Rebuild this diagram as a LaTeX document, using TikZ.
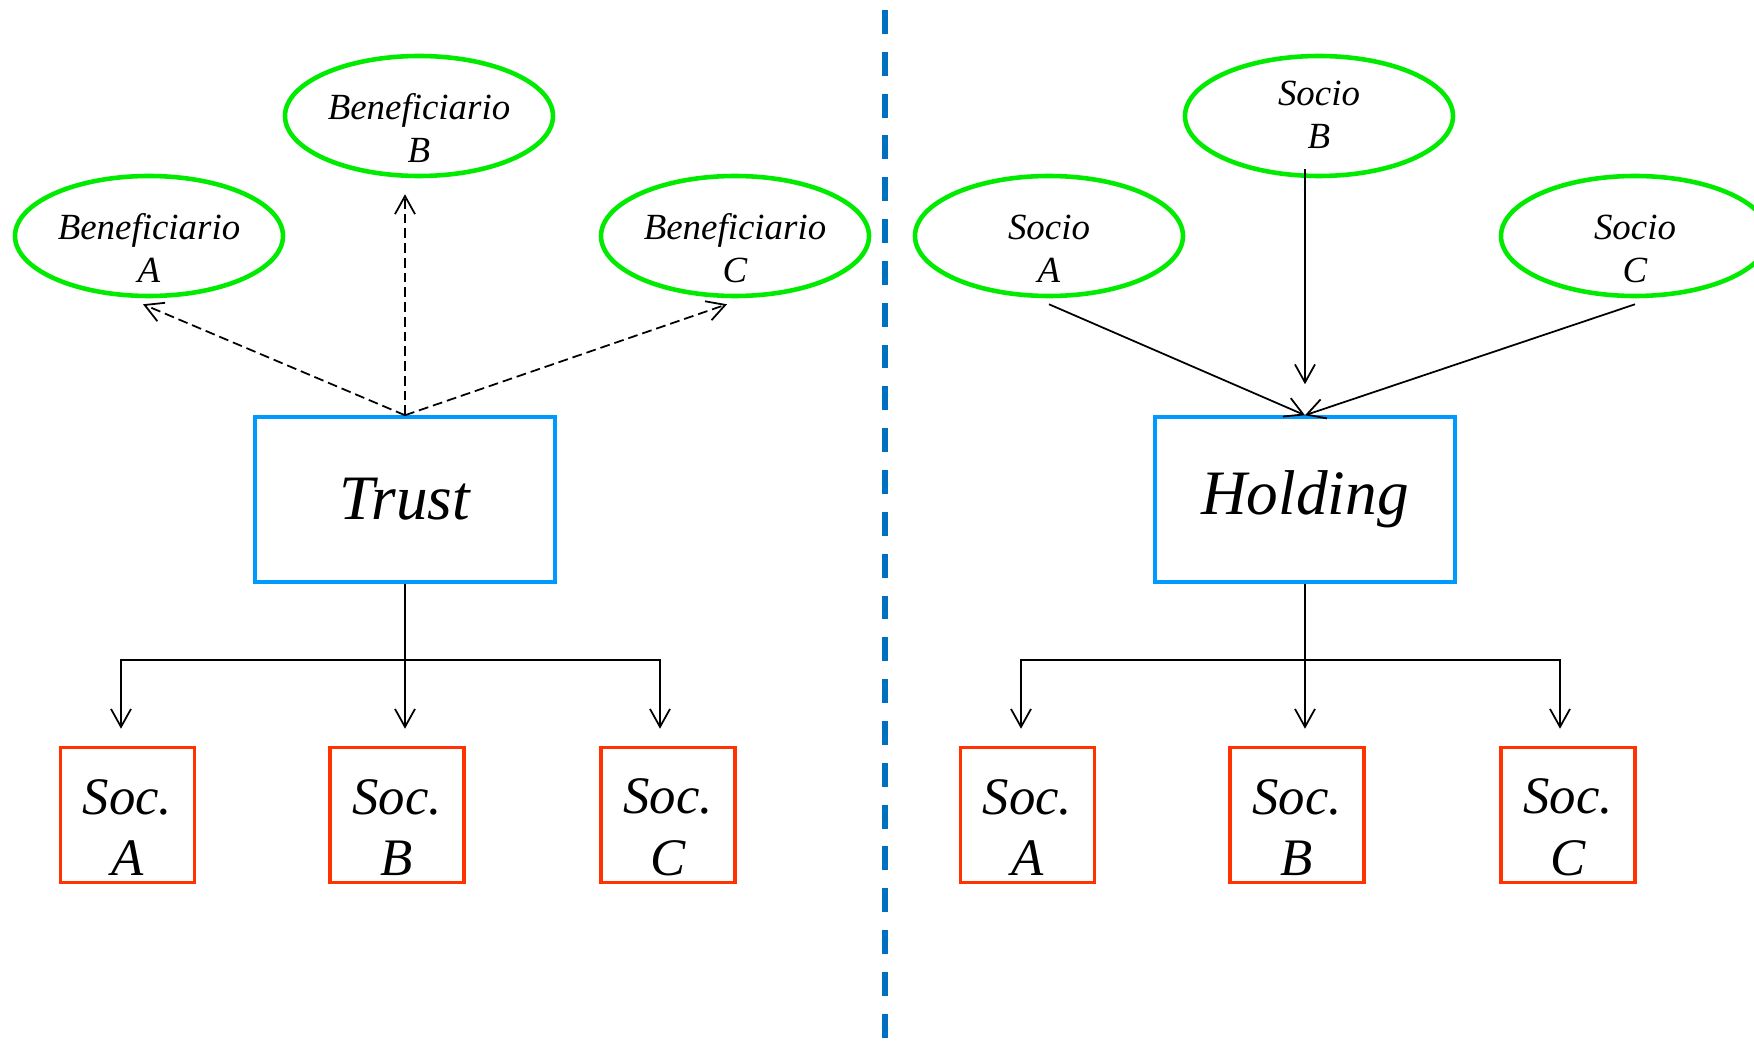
\documentclass[tikz,border=0pt]{standalone}
\usepackage{fontspec}
\setmainfont{Liberation Serif}
\usetikzlibrary{shapes.geometric, positioning, arrows.meta}

\definecolor{partygreen}{RGB}{0,235,0}
\definecolor{vehicleblue}{RGB}{0,153,255}
\definecolor{socred}{RGB}{255,51,0}
\definecolor{sepblue}{RGB}{0,112,192}

\begin{document}
\begin{tikzpicture}[>={Straight Barb[length=1.8mm, width=2mm]}, on grid, line width=0.5pt,
    party/.style={ellipse, draw=partygreen, line width=1.3pt, minimum width=2.68cm,
        minimum height=1.2cm, inner xsep=0pt, inner ysep=-3pt, align=center, text height=26.3pt,
        font=\itshape\fontsize{10.5}{12.2}\selectfont},
    vehicle/.style={rectangle, draw=vehicleblue, line width=1pt, minimum width=3cm,
        minimum height=1.65cm, font=\itshape\fontsize{18}{20}\selectfont},
    society/.style={rectangle, draw=socred, line width=1pt, minimum width=1.34cm,
        minimum height=1.35cm, inner sep=0pt, align=center, text height=34.5pt,
        font=\itshape\fontsize{15}{17.5}\selectfont}]
    \useasboundingbox (0,0) rectangle (17.54,-10.54);

    % Trust side
    \node[vehicle] (trust) at (4.05,-4.995) {Trust};
    \node[party] (benA) at (1.49,-2.36) {Beneficiario\\A};
    \node[party] (benB) at (4.19,-1.16) {Beneficiario\\B};
    \node[party] (benC) at (7.35,-2.36) {Beneficiario\\C};
    \node[society] (tsocA) at (1.275,-8.15) {Soc.\\A};
    \node[society] (tsocB) at (3.97,-8.15) {Soc.\\B};
    \node[society] (tsocC) at (6.68,-8.15) {Soc.\\C};

    % Holding side
    \node[vehicle] (holding) [right=9cm of trust] {Holding};
    \node[party] (socioA) [right=9cm of benA] {Socio\\A};
    \node[party, text height=18.3pt] (socioB) [right=9cm of benB] {Socio\\B};
    \node[party] (socioC) [right=9cm of benC] {Socio\\C};
    \node[society] (hsocA) [right=9cm of tsocA] {Soc.\\A};
    \node[society] (hsocB) [right=9cm of tsocB] {Soc.\\B};
    \node[society] (hsocC) [right=9cm of tsocC] {Soc.\\C};

    % Separator
    \coordinate (sepTop) at (8.85,-0.1);
    \coordinate (sepBot) at (8.85,-10.43);
    \draw[sepblue, line width=1.7pt, dash pattern=on 6.8pt off 5.1pt] (sepTop) -- (sepBot);

    % Beneficiaries
    \draw[->, dash pattern=on 2.8pt off 1.4pt] (trust.north) -- ([xshift=-0.6mm,yshift=-0.6mm]benA.south);
    \draw[->, dash pattern=on 2.8pt off 1.4pt] (trust.north) -- ([yshift=-1.6mm]benB.south -| trust.north);
    \draw[->, dash pattern=on 2.8pt off 1.4pt] (trust.north) -- ([xshift=-0.8mm,yshift=-0.6mm]benC.south);

    % Partners
    \draw[->] ([yshift=-0.6mm]socioA.south) -- (holding.north);
    \draw[->] ([yshift=0.9mm]socioB.south -| holding.north) -- ([yshift=3.1mm]holding.north);
    \draw[->] ([yshift=-0.6mm]socioC.south) -- (holding.north);

    % Controlled companies
    \coordinate (forkT) at ([yshift=-7.6mm]trust.south);
    \draw[->] (trust.south) -- ([yshift=1.7mm]tsocB.north -| trust.south);
    \draw[->] (forkT) -| ([xshift=-0.65mm,yshift=1.7mm]tsocA.north);
    \draw[->] (forkT) -| ([xshift=-0.8mm,yshift=1.7mm]tsocC.north);

    \coordinate (forkH) at ([yshift=-7.6mm]holding.south);
    \draw[->] (holding.south) -- ([yshift=1.7mm]hsocB.north -| holding.south);
    \draw[->] (forkH) -| ([xshift=-0.65mm,yshift=1.7mm]hsocA.north);
    \draw[->] (forkH) -| ([xshift=-0.8mm,yshift=1.7mm]hsocC.north);
\end{tikzpicture}
\end{document}
